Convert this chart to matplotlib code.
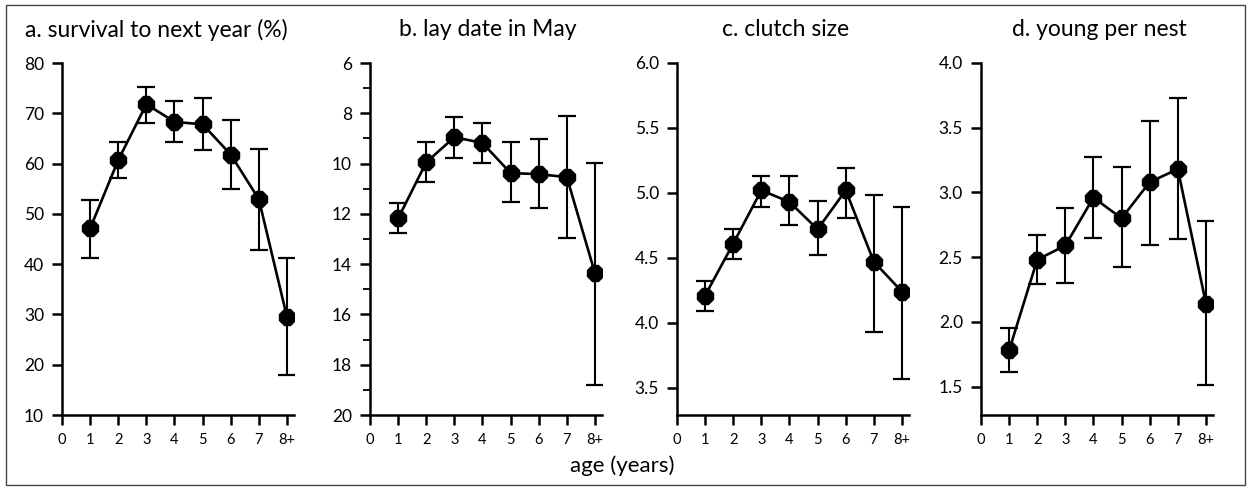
import matplotlib
matplotlib.use('Agg')
import matplotlib.pyplot as plt
from matplotlib.patches import Rectangle
from matplotlib.ticker import MultipleLocator

plt.rcParams['font.family'] = ['Lato', 'DejaVu Sans']

# age classes
ages = [1, 2, 3, 4, 5, 6, 7, 8]
age_labels = ['0', '1', '2', '3', '4', '5', '6', '7', '8+']

# a. survival to next year (%)
surv = [47.1, 60.7, 71.8, 68.3, 67.8, 61.8, 52.9, 29.5]
surv_hi = [52.7, 64.3, 75.3, 72.5, 73.1, 68.6, 62.8, 41.2]
surv_lo = [41.3, 57.1, 68.1, 64.3, 62.6, 55.0, 42.9, 18.0]

# b. lay date in May
lay = [12.18, 9.95, 8.95, 9.18, 10.38, 10.42, 10.54, 14.36]
lay_hi = [11.58, 9.14, 8.14, 8.38, 9.14, 9.04, 8.11, 9.98]
lay_lo = [12.76, 10.75, 9.78, 9.98, 11.54, 11.75, 12.96, 18.8]

# c. clutch size
clutch = [4.21, 4.61, 5.02, 4.93, 4.72, 5.02, 4.47, 4.24]
clutch_hi = [4.32, 4.72, 5.13, 5.13, 4.94, 5.19, 4.98, 4.89]
clutch_lo = [4.09, 4.49, 4.89, 4.75, 4.52, 4.81, 3.93, 3.57]

# d. young per nest
young = [1.78, 2.48, 2.59, 2.96, 2.80, 3.08, 3.18, 2.14]
young_hi = [1.95, 2.67, 2.88, 3.27, 3.20, 3.55, 3.73, 2.78]
young_lo = [1.61, 2.29, 2.30, 2.65, 2.42, 2.59, 2.64, 1.51]

W, H = 1253, 487
fig = plt.figure(figsize=(W / 100, H / 100), dpi=100)

panels = [
    ('a. survival to next year (%)', surv, surv_hi, surv_lo, (10, 80), list(range(10, 81, 10)), None, 62, 156),
    ('b. lay date in May', lay, lay_hi, lay_lo, (20, 6), list(range(6, 21, 2)), 1, 370, 488),
    ('c. clutch size', clutch, clutch_hi, clutch_lo, (3.29, 6.0), [3.5, 4.0, 4.5, 5.0, 5.5, 6.0], None, 677, 786),
    ('d. young per nest', young, young_hi, young_lo, (1.28, 4.0), [1.5, 2.0, 2.5, 3.0, 3.5, 4.0], None, 981, 1099),
]

for title, y, hi, lo, ylim, yticks, minor, left_px, title_x in panels:
    ax = fig.add_axes([left_px / W, (H - 415) / H, 232 / W, 352 / H])
    yerr_up = [abs(h - v) for h, v in zip(hi, y)]
    yerr_dn = [abs(v - l) for v, l in zip(y, lo)]
    ax.errorbar(ages, y, yerr=[yerr_dn, yerr_up] if ylim[0] < ylim[1] else [yerr_up, yerr_dn],
                fmt='-', color='black', lw=1.9, elinewidth=1.5, capsize=6.5, capthick=1.6,
                marker='8', markersize=12, mfc='black', mec='black', zorder=3)
    ax.set_xlim(0, 8.25)
    ax.set_ylim(*ylim)
    ax.set_xticks(range(0, 9))
    ax.set_xticklabels(age_labels, fontsize=10.5)
    ax.set_yticks(yticks)
    if isinstance(yticks[0], float):
        ax.set_yticklabels(['%.1f' % t for t in yticks], fontsize=12.5)
    else:
        ax.set_yticklabels([str(t) for t in yticks], fontsize=12.5)
    if minor:
        ax.yaxis.set_minor_locator(MultipleLocator(minor))
        ax.tick_params(axis='y', which='minor', length=5, width=1.3, direction='out')
    ax.spines['top'].set_visible(False)
    ax.spines['right'].set_visible(False)
    ax.spines['left'].set_linewidth(1.8)
    ax.spines['bottom'].set_linewidth(1.8)
    ax.tick_params(axis='both', which='major', length=7, width=1.8, direction='out', pad=6)
    ax.patch.set_alpha(0)
    fig.text(title_x / W, 1 - 30 / H, title, ha='center', va='center', fontsize=16.5)

fig.text(622 / W, 1 - 466 / H, 'age (years)', ha='center', va='center', fontsize=16)

fig.patches.append(Rectangle((6 / W, 2 / H), 1239 / W, 480 / H, transform=fig.transFigure,
                             fill=False, edgecolor='#444444', lw=1.0))

fig.savefig('out.png', dpi=100)
